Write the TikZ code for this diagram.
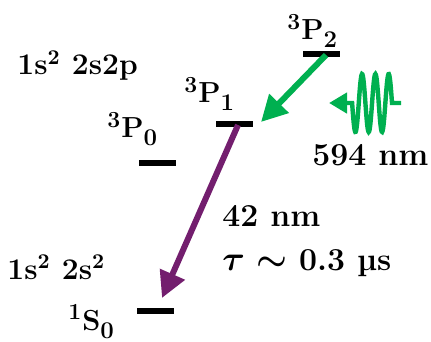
\documentclass[tikz,border=0pt]{standalone}
\usepackage{amsmath}
\usetikzlibrary{arrows.meta}

\definecolor{lasergreen}{RGB}{0,176,80}
\definecolor{decaypurple}{RGB}{115,30,110}

% term symbol: ^{2S+1}L_J
\newcommand{\term}[3]{\textsuperscript{\fontsize{11.5}{12}\selectfont #1}#2\raisebox{-4pt}{\fontsize{12}{12}\selectfont #3}}

\tikzset{
  level/.style={line width=3.4pt},
  termlbl/.style={anchor=base west, inner sep=0pt, font=\bfseries\fontsize{14.5}{15}\selectfont},
  configlbl/.style={anchor=base west, inner sep=0pt, font=\bfseries\fontsize{15}{16}\selectfont},
  bigtxt/.style={anchor=base west, inner sep=0pt, font=\bfseries\fontsize{16}{18}\selectfont},
  transition/.style={line width=3pt, -{Triangle[length=13pt,width=13pt]}}
}

\begin{document}
\begin{tikzpicture}[x=0.5pt,y=-0.5pt]
    \useasboundingbox (0,0) rectangle (431,341);

    % energy levels
    \draw[level] (303,54) coordinate (p2l) -- (340,54) coordinate (p2r);
    \draw[level] (216,124) coordinate (p1l) -- (253,124) coordinate (p1r);
    \draw[level] (139,163) coordinate (p0l) -- (176,163) coordinate (p0r);
    \draw[level] (137,311) coordinate (s0l) -- (174,311) coordinate (s0r);

    % term labels
    \node[termlbl] (lp2) at (287,40) {\term{3}{P}{2}};
    \node[termlbl] (lp1) at (184,103) {\term{3}{P}{1}};
    \node[termlbl] (lp0) at (107,138) {\term{3}{P}{0}};
    \node[termlbl] (ls0) at (68,330) {\term{1}{S}{0}};

    % configurations
    \node[configlbl] (cfgup) at (17,75) {1s\textsuperscript{2} 2s2p};
    \node[configlbl] (cfgdn) at (7,279) {1s\textsuperscript{2} 2s\textsuperscript{2}};

    % pump 3P2 -> 3P1
    \coordinate (gs) at (326,55);
    \coordinate (ge) at (261,122);
    \draw[transition, lasergreen] (gs) -- (ge);

    % photon
    \coordinate (wr) at (401,103);
    \coordinate (wl) at (329,103);
    \draw[lasergreen, line width=2.2pt, -{Triangle[length=9pt,width=10pt]}]
        (wr) -- (392,103)
        -- plot[domain=0:3, samples=90, smooth] ({392-13.3*\x},{103-29*sin(360*\x)})
        -- (wl);
    \node[bigtxt] (wl594) at (312,166) {594 nm};

    % decay 3P1 -> 1S0
    \coordinate (ps) at (238,125);
    \coordinate (pe) at (162,298);
    \draw[transition, decaypurple] (ps) -- (pe);
    \node[bigtxt] (wl42) at (222,226) {42 nm};
    \node[bigtxt] (life) at (222,270) {$\boldsymbol{\tau\sim}$ 0.3 µs};
\end{tikzpicture}
\end{document}
